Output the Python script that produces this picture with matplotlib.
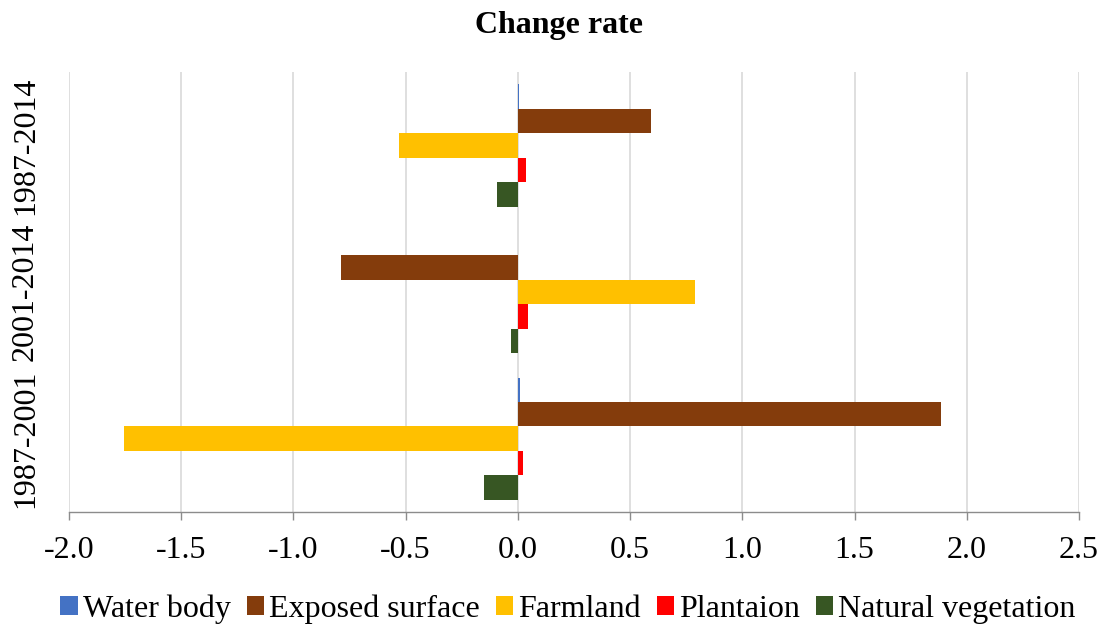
import matplotlib
matplotlib.use("Agg")
import matplotlib.pyplot as plt
import numpy as np

periods = ["1987-2001", "2001-2014", "1987-2014"]
series_names = ["Water body", "Exposed surface", "Farmland", "Plantaion", "Natural vegetation"]
water_body = [0.010, 0.0, 0.006]
exposed_surface = [1.885, -0.789, 0.593]
farmland = [-1.756, 0.789, -0.530]
plantation = [0.022, 0.045, 0.036]
natural_vegetation = [-0.152, -0.031, -0.094]
colors = ["#4472C4", "#843C0C", "#FFC000", "#FF0000", "#375623"]
xticks = [-2.0, -1.5, -1.0, -0.5, 0.0, 0.5, 1.0, 1.5, 2.0, 2.5]

plt.rcParams['font.family'] = ['Liberation Serif', 'DejaVu Serif']

fig = plt.figure(figsize=(11.05, 6.28), dpi=100)
ax = fig.add_axes([0.0624, 0.1847, 0.9141, 0.7003])

data = [water_body, exposed_surface, farmland, plantation, natural_vegetation]
h = 0.167
y = np.arange(len(periods))
for i, (name, vals, c) in enumerate(zip(series_names, data, colors)):
    offset = (2 - i) * h
    ax.barh(y + offset, vals, height=h, color=c, label=name, zorder=3)

ax.set_xlim(-2.0, 2.5)
ax.set_ylim(-0.5, 2.5)
ax.set_xticks(xticks)
ax.set_xticklabels([f"{v:.1f}" for v in xticks], fontsize=23)
ax.set_yticks(y)
ax.set_yticklabels(periods, fontsize=23, rotation=90, va='center')
ax.tick_params(axis='y', length=0, pad=21)
ax.tick_params(axis='x', length=6, width=1, color='#8C8C8C', direction='out', pad=11)
ax.grid(axis='x', color='#D9D9D9', linewidth=1.2, zorder=0)
for s in ['left', 'right', 'top']:
    ax.spines[s].set_visible(False)
ax.spines['bottom'].set_color('#8C8C8C')
ax.spines['bottom'].set_linewidth(1)

fig.suptitle("Change rate", fontsize=23, fontweight='bold', x=0.506, y=0.983, va='top')

fig.legend(loc='center', ncol=5, fontsize=23, frameon=False,
           bbox_to_anchor=(0.514, 0.03), handlelength=0.55, handleheight=0.55,
           handletextpad=0.15, columnspacing=0.5, borderpad=0)

fig.savefig("out.png", dpi=100)
